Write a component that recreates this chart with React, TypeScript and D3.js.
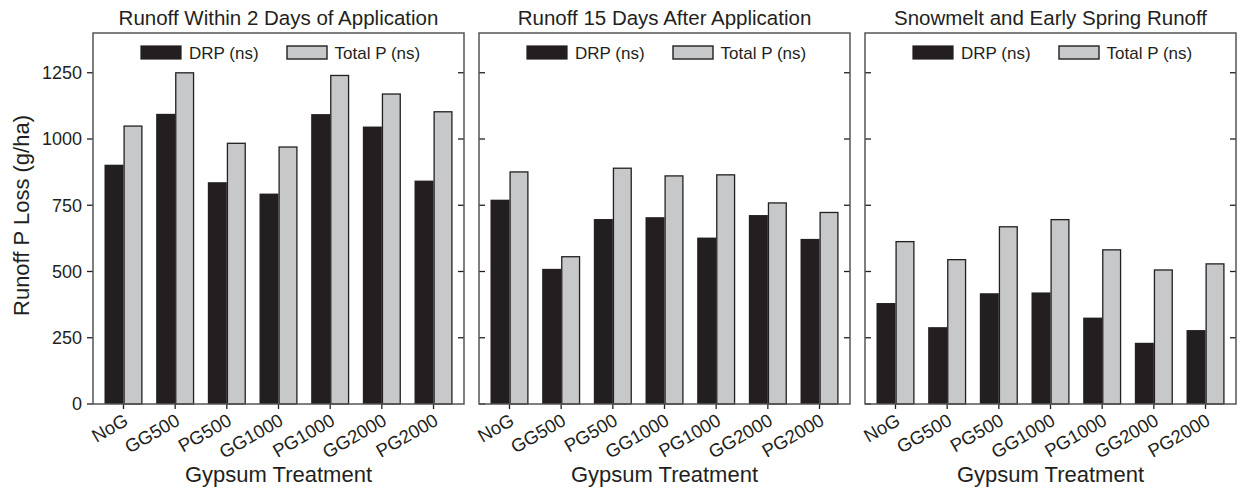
import React from "react";
import * as d3 from "d3";

// Gypsum treatments on the x axis
const categories = ["NoG", "GG500", "PG500", "GG1000", "PG1000", "GG2000", "PG2000"];

// Panel titles, one per runoff period
const panelTitles = [
  "Runoff Within 2 Days of Application",
  "Runoff 15 Days After Application",
  "Snowmelt and Early Spring Runoff",
];

// Runoff P loss (g/ha) per treatment
const drpWithin2Days = [903, 1095, 837, 794, 1094, 1047, 843];
const totalPWithin2Days = [1051, 1252, 986, 972, 1242, 1172, 1105];

const drp15Days = [771, 510, 698, 705, 628, 713, 623];
const totalP15Days = [878, 558, 892, 863, 867, 761, 725];

const drpSnowmelt = [381, 290, 418, 421, 326, 231, 279];
const totalPSnowmelt = [615, 547, 671, 698, 584, 508, 531];

const seriesNames = ["DRP (ns)", "Total P (ns)"];
const yTicks = [0, 250, 500, 750, 1000, 1250];
const yMax = 1400;

const panelData = [
  { title: panelTitles[0], drp: drpWithin2Days, total: totalPWithin2Days },
  { title: panelTitles[1], drp: drp15Days, total: totalP15Days },
  { title: panelTitles[2], drp: drpSnowmelt, total: totalPSnowmelt },
];

const W = 1243;
const H = 492;
const panelLefts = [93, 479, 865];
const panelWidth = 371;
const top = 33;
const bottom = 404;
const barW = 19;

const DARK = "#231f20";
const LIGHT = "#c7c8ca";
const FRAME = "#555555";
const FONT = "'Liberation Sans', Arial, Helvetica, sans-serif";

export default function App() {
  const y = d3.scaleLinear().domain([0, yMax]).range([bottom, top]);

  return (
    <svg
      width={W}
      height={H}
      viewBox={`0 0 ${W} ${H}`}
      style={{ position: "absolute", left: 0, top: 0, display: "block", background: "#fff" }}
      fontFamily={FONT}
    >
      {panelData.map((p, pi) => {
        const left = panelLefts[pi];
        const right = left + panelWidth;
        const cx = (left + right) / 2;
        const x = d3.scalePoint<string>().domain(categories).range([left, right]).padding(0.59);
        return (
          <g key={pi}>
            {/* title */}
            <text x={cx} y={25} textAnchor="middle" fontSize={20.5} fill="#231f20">
              {p.title}
            </text>

            {/* bars */}
            {categories.map((c, i) => {
              const xc = x(c) as number;
              const yd = y(p.drp[i]);
              const yt = y(p.total[i]);
              return (
                <g key={c}>
                  <rect x={xc - barW} y={yd} width={barW} height={bottom - yd} fill={DARK} />
                  <rect
                    x={xc + 0.6}
                    y={yt + 0.6}
                    width={barW - 1.2}
                    height={bottom - yt - 0.6}
                    fill={LIGHT}
                    stroke={DARK}
                    strokeWidth={1.3}
                  />
                </g>
              );
            })}

            {/* legend */}
            <g>
              <rect x={left + 48} y={46} width={40} height={13} fill={DARK} stroke={DARK} strokeWidth={1.2} />
              <text x={left + 96} y={59} fontSize={17} fill="#231f20">
                {seriesNames[0]}
              </text>
              <rect x={left + 194} y={46} width={40} height={13} fill={LIGHT} stroke={DARK} strokeWidth={1.4} />
              <text x={left + 241.5} y={59} fontSize={17} fill="#231f20">
                {seriesNames[1]}
              </text>
            </g>

            {/* y ticks: outward with labels on the first panel, inward elsewhere */}
            {yTicks.map((t) => (
              <g key={t}>
                {pi === 0 ? (
                  <>
                    <line x1={left - 6} x2={left} y1={y(t)} y2={y(t)} stroke={DARK} strokeWidth={1.3} />
                    <text x={82} y={y(t)} dy="0.36em" textAnchor="end" fontSize={18} fill="#231f20">
                      {t}
                    </text>
                  </>
                ) : (
                  <line x1={left} x2={left + 6} y1={y(t)} y2={y(t)} stroke={DARK} strokeWidth={1.3} />
                )}
                {t > 0 && (
                  <line x1={right - 6} x2={right} y1={y(t)} y2={y(t)} stroke={DARK} strokeWidth={1.3} />
                )}
              </g>
            ))}

            {/* x ticks and rotated labels */}
            {categories.map((c) => {
              const xc = x(c) as number;
              return (
                <g key={c}>
                  <line x1={xc} x2={xc} y1={bottom} y2={bottom + 5} stroke={DARK} strokeWidth={1.3} />
                  <text
                    transform={`translate(${xc + 6},${bottom + 20}) rotate(-30)`}
                    textAnchor="end"
                    fontSize={18.5}
                    fill="#231f20"
                  >
                    {c}
                  </text>
                </g>
              );
            })}

            {/* frame */}
            <rect x={left} y={top} width={panelWidth} height={bottom - top} fill="none" stroke={FRAME} strokeWidth={1.5} />

            {/* x axis title */}
            <text x={cx} y={482} textAnchor="middle" fontSize={22} fill="#231f20">
              Gypsum Treatment
            </text>
          </g>
        );
      })}

      {/* y axis title */}
      <text
        transform={`translate(29,${(top + bottom) / 2 - 3}) rotate(-90)`}
        textAnchor="middle"
        fontSize={22}
        fill="#231f20"
      >
        Runoff P Loss (g/ha)
      </text>
    </svg>
  );
}
